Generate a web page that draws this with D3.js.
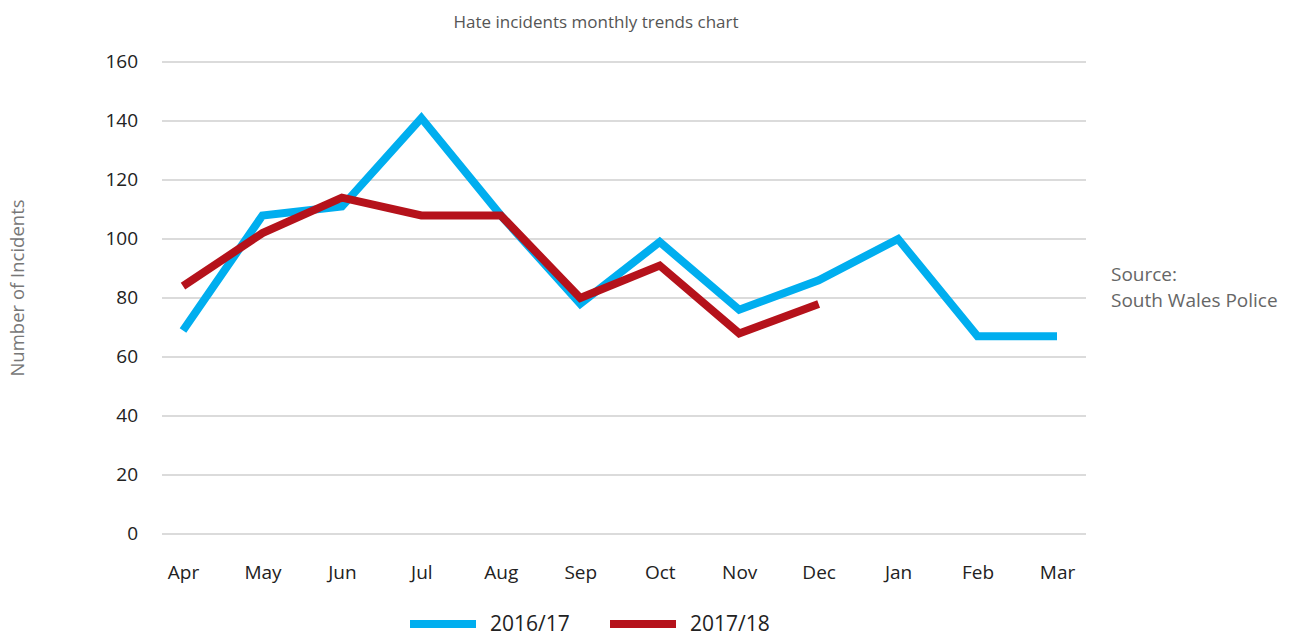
<!DOCTYPE html>
<html><head><meta charset="utf-8">
<script src="https://cdn.jsdelivr.net/npm/d3@7"></script>
<style>body{margin:0;background:#fff;} svg{display:block;font-family:"Open Sans",sans-serif;}</style>
</head><body><svg id="c" width="1295" height="637"></svg>
<script>
const months = ["Apr","May","Jun","Jul","Aug","Sep","Oct","Nov","Dec","Jan","Feb","Mar"];
const series2016 = [69,108,111,141,108,78,99,76,86,100,67,67];
const series2017 = [84,102,114,108,108,80,91,68,78];
const yTicks = [0,20,40,60,80,100,120,140,160];
const seriesNames = ["2016/17","2017/18"];
const colors = ["#00AEEF","#B5121B"];

(function(){
const svg = d3.select("#c");
const pl = 162, pr = 1086, pt = 62, pb = 534;
const x = d3.scalePoint().domain(months).range([pl + 21, pr - 29]).padding(0);
const y = d3.scaleLinear().domain([0,160]).range([pb, pt]);

svg.append("g").selectAll("line").data(yTicks).join("line")
  .attr("x1", pl).attr("x2", pr)
  .attr("y1", d => y(d)).attr("y2", d => y(d))
  .attr("stroke", "#cfcfcf").attr("stroke-width", 1.5);

const ya = svg.append("g").attr("transform", `translate(${pl-24},0)`)
  .call(d3.axisLeft(y).tickValues(yTicks).tickSize(0).tickPadding(0));
ya.select(".domain").remove();
ya.selectAll("text").attr("font-size", 19).attr("fill", "#222").attr("font-family", "Open Sans, sans-serif").attr("dy","0.3em");

const xa = svg.append("g").attr("transform", `translate(0,${pb+28})`)
  .call(d3.axisBottom(x).tickSize(0).tickPadding(0));
xa.select(".domain").remove();
xa.selectAll("text").attr("font-size", 19).attr("fill", "#222").attr("font-family", "Open Sans, sans-serif").attr("dy","0.9em");

const line = d3.line().x((d,i) => x(months[i])).y(d => y(d)).curve(d3.curveLinear);
[series2016, series2017].forEach((s, k) => {
  svg.append("path").datum(s).attr("d", line)
    .attr("fill", "none").attr("stroke", colors[k]).attr("stroke-width", 8)
    .attr("stroke-linejoin", "miter").attr("stroke-linecap", "butt");
});

svg.append("text").attr("x", 596).attr("y", 28).attr("text-anchor", "middle")
  .attr("font-size", 17).attr("fill", "#555").text("Hate incidents monthly trends chart");

svg.append("text").attr("transform", "translate(24,288) rotate(-90)").attr("text-anchor", "middle")
  .attr("font-size", 18.5).attr("fill", "#777").text("Number of Incidents");

svg.append("text").attr("x", 1111).attr("y", 281).attr("font-size", 19).attr("fill", "#666").text("Source:");
svg.append("text").attr("x", 1111).attr("y", 307).attr("font-size", 19).attr("fill", "#666").text("South Wales Police");

const lg = svg.append("g");
const legX = [410, 610];
seriesNames.forEach((n, k) => {
  lg.append("line").attr("x1", legX[k]).attr("x2", legX[k]+66).attr("y1", 624).attr("y2", 624)
    .attr("stroke", colors[k]).attr("stroke-width", 8);
  lg.append("text").attr("x", legX[k]+80).attr("y", 631).attr("font-size", 21).attr("fill", "#222").text(n);
});
})();
</script></body></html>
